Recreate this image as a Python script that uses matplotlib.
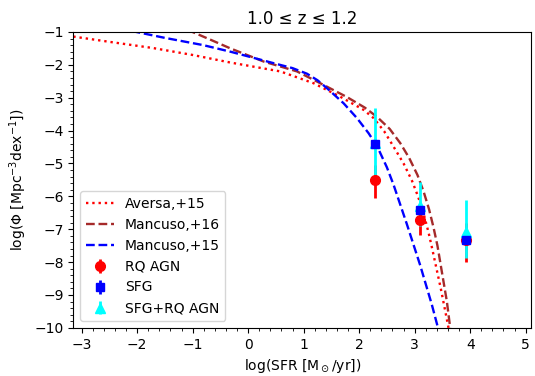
import matplotlib
matplotlib.use("Agg")
import matplotlib.pyplot as plt
from matplotlib.ticker import AutoMinorLocator, MultipleLocator

# =========================
# model curves
# =========================
aversa_x = [-3.15, -2.5, -1.71, -1.0, -0.32, 0.58, 1.18, 1.66, 2.08, 2.26, 2.45, 2.62, 2.8, 2.95, 3.06, 3.16, 3.25, 3.31, 3.47, 3.61]
aversa_y = [-1.14, -1.3, -1.49, -1.7, -1.93, -2.2, -2.56, -2.97, -3.37, -3.62, -4.02, -4.49, -5.0, -5.52, -6.0, -6.52, -7.1, -7.55, -8.8, -10.0]

mancuso16_x = [-1.1, -0.7, -0.32, 0.28, 0.88, 1.3, 1.78, 2.1, 2.32, 2.55, 2.74, 2.9, 3.05, 3.16, 3.26, 3.34, 3.41, 3.5, 3.58, 3.64]
mancuso16_y = [-0.93, -1.22, -1.5, -1.9, -2.2, -2.56, -2.98, -3.3, -3.58, -3.95, -4.38, -4.83, -5.35, -5.85, -6.4, -6.95, -7.5, -8.4, -9.2, -10.0]

mancuso15_x = [-2.1, -1.5, -0.81, -0.32, 0.46, 0.8, 1.06, 1.25, 1.42, 1.72, 1.96, 2.17, 2.33, 2.5, 2.62, 2.86, 3.1, 3.31, 3.42]
mancuso15_y = [-0.97, -1.18, -1.4, -1.6, -1.95, -2.1, -2.27, -2.47, -2.71, -3.17, -3.62, -4.08, -4.5, -5.12, -5.65, -6.85, -8.1, -9.3, -10.0]

# =========================
# data points
# =========================
agn_x = [2.29, 3.1, 3.92]
agn_y = [-5.5, -6.71, -7.32]
agn_lo = [0.55, 0.46, 0.68]
agn_hi = [0.45, 0.4, 0.5]

sfg_x = [2.29, 3.1, 3.92]
sfg_y = [-4.4, -6.41, -7.32]
sfg_lo = [0.12, 0.12, 0.12]
sfg_hi = [0.12, 0.12, 0.12]

tot_x = [2.29, 3.1, 3.92]
tot_y = [-4.38, -6.3, -7.08]
tot_lo = [1.05, 0.6, 0.79]
tot_hi = [1.08, 0.75, 0.98]

plt.rcParams["font.size"] = 10
fig = plt.figure(figsize=(5.35, 3.76), dpi=100)
ax = fig.add_axes([0.137, 0.128, 0.856, 0.787])

ax.plot(aversa_x, aversa_y, color="red", linestyle=":", linewidth=1.7, label="Aversa,+15")
ax.plot(mancuso16_x, mancuso16_y, color="brown", linestyle="--", linewidth=1.7, label="Mancuso,+16")
ax.plot(mancuso15_x, mancuso15_y, color="blue", linestyle="--", linewidth=1.7, label="Mancuso,+15")

eb_agn = ax.errorbar(agn_x, agn_y, yerr=[agn_lo, agn_hi], fmt="o", color="red", markersize=7,
                     elinewidth=2, capsize=0, label="RQ AGN")
eb_sfg = ax.errorbar(sfg_x, sfg_y, yerr=[sfg_lo, sfg_hi], fmt="s", color="blue", markersize=6,
                     elinewidth=2, capsize=0, label="SFG")
eb_tot = ax.errorbar(tot_x, tot_y, yerr=[tot_lo, tot_hi], fmt="^", color="cyan", markersize=7,
                     elinewidth=2, capsize=0, label="SFG+RQ AGN")

# stacking: red bars < cyan bars < red dots < cyan triangles < blue squares
eb_agn[2][0].set_zorder(3)
eb_tot[2][0].set_zorder(3.2)
eb_agn[0].set_zorder(3.4)
eb_tot[0].set_zorder(3.6)
eb_sfg[2][0].set_zorder(3.8)
eb_sfg[0].set_zorder(4)

ax.set_xlim(-3.15, 5.1)
ax.set_ylim(-10, -1)
ax.xaxis.set_major_locator(MultipleLocator(1))
ax.yaxis.set_major_locator(MultipleLocator(1))
ax.xaxis.set_minor_locator(AutoMinorLocator(5))
ax.yaxis.set_minor_locator(AutoMinorLocator(5))

ax.set_xlabel(r"log(SFR [M$_\odot$/yr])")
ax.set_ylabel(r"log($\Phi$ [Mpc$^{-3}$dex$^{-1}$])")
ax.set_title("1.0 ≤ z ≤ 1.2")

ax.legend(loc="lower left")

fig.savefig("out.png", dpi=100)
